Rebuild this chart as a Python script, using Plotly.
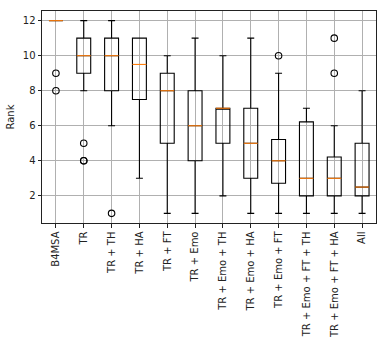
import plotly.graph_objects as go

categories = ["B4MSA", "TR", "TR + TH", "TR + HA", "TR + FT", "TR + Emo",
              "TR + Emo + TH", "TR + Emo + HA", "TR + Emo + FT",
              "TR + Emo + FT + TH", "TR + Emo + FT + HA", "All"]
q1 = [12, 9, 8, 7.5, 5, 4, 5, 3, 2.72, 2, 2, 2]
median = [12, 10, 10, 9.5, 8, 6, 7, 5, 4, 3, 3, 2.5]
q3 = [12, 11, 11, 11, 9, 8, 7, 7, 5.22, 6.22, 4.22, 5]
lower = [12, 8, 6, 3, 1, 1, 2, 1, 1, 1, 1, 1]
upper = [12, 12, 12, 11, 10, 11, 10, 11, 9, 7, 6, 8]
outliers = {1: [9, 8], 2: [5, 4, 4], 3: [1], 9: [10], 11: [9, 11]}

pos = list(range(1, len(categories) + 1))
half = 0.25

fig = go.Figure()
fig.add_trace(go.Box(
    x=pos, q1=q1, median=median, q3=q3, lowerfence=lower, upperfence=upper,
    width=0.5, whiskerwidth=0.5, fillcolor="rgba(0,0,0,0)",
    line=dict(color="black", width=1.1), boxpoints=False, showlegend=False,
    hoverinfo="skip"))

mx, my = [], []
for p, m in zip(pos, median):
    mx += [p - half, p + half, None]
    my += [m, m, None]
fig.add_trace(go.Scatter(x=mx, y=my, mode="lines",
                         line=dict(color="#ff7f0e", width=1.1),
                         showlegend=False, hoverinfo="skip"))

ox, oy = [], []
for p, vals in outliers.items():
    for v in vals:
        ox.append(p)
        oy.append(v)
fig.add_trace(go.Scatter(x=ox, y=oy, mode="markers",
                         marker=dict(symbol="circle-open", size=6.5, color="black",
                                     line=dict(width=1.1, color="black")),
                         showlegend=False, hoverinfo="skip"))

axis_common = dict(showline=True, linecolor="#222", linewidth=1, mirror=True,
                   showgrid=True, gridcolor="#b0b0b0", gridwidth=0.8,
                   ticks="outside", ticklen=3.5, tickcolor="#222",
                   tickfont=dict(family="DejaVu Sans", size=10, color="#222"),
                   zeroline=False)

fig.update_layout(
    width=386, height=347,
    margin=dict(l=41.5, r=9.3, t=11.3, b=118.7),
    paper_bgcolor="white", plot_bgcolor="white",
    xaxis=dict(range=[0.5, 12.5], tickmode="array", tickvals=pos,
               ticktext=categories, tickangle=-90, ticksuffix="\u00a0",
               **axis_common),
    yaxis=dict(range=[0.45, 12.55], tickmode="array",
               tickvals=[2, 4, 6, 8, 10, 12],
               title=dict(text="Rank", font=dict(family="DejaVu Sans", size=10, color="#222"),
                          standoff=6),
               **axis_common),
    font=dict(family="DejaVu Sans", size=10, color="#222"),
)

fig.write_html("out.html")
